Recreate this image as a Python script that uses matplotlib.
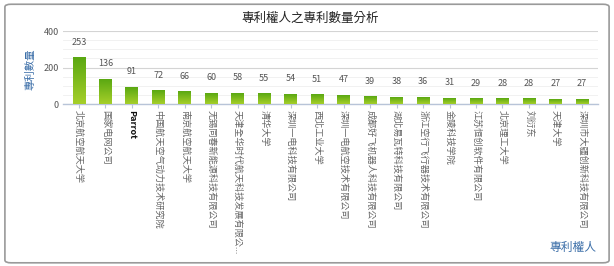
import matplotlib
matplotlib.use('Agg')
import matplotlib.pyplot as plt
import numpy as np
from matplotlib.patches import FancyBboxPatch
from matplotlib.colors import LinearSegmentedColormap

plt.rcParams['font.family'] = ['Noto Sans CJK TC', 'DejaVu Sans']

# data
applicants = [
    '北京航空航天大学', '国家电网公司', 'Parrot', '中国航天空气动力技术研究院',
    '南京航空航天大学', '无锡同春新能源科技有限公司', '天津全华时代航天科技发展有限公...',
    '清华大学', '深圳一电科技有限公司', '西北工业大学', '深圳一电航空技术有限公司',
    '成都好飞机器人科技有限公司', '湖北易瓦特科技有限公司', '浙江空行飞行器技术有限公司',
    '金陵科技学院', '江苏恒创软件有限公司', '北京理工大学', '刘衍东', '天津大学',
    '深圳市大疆创新科技有限公司',
]
counts = [253, 136, 91, 72, 66, 60, 58, 55, 54, 51, 47, 39, 38, 36, 31, 29, 28, 28, 27, 27]

title = '專利權人之專利數量分析'
ylabel = '專利數量'
xlabel = '專利權人'

fig = plt.figure(figsize=(6.14, 2.66), dpi=100)

# outer frame
frame = FancyBboxPatch((0.008, 0.012), 0.984, 0.972, boxstyle='round,pad=0,rounding_size=0.01',
                       transform=fig.transFigure, facecolor='none', edgecolor='#9a9a9a',
                       linewidth=1.2, zorder=5)
fig.patches.append(frame)

ax = fig.add_axes([0.1026, 0.609, 0.871, 0.274])
ax.set_facecolor('none')

x = np.arange(len(counts))
bars = ax.bar(x, counts, width=0.48, color='none', edgecolor='none', zorder=3)

# green gradient fill for each bar
cmap = LinearSegmentedColormap.from_list('g', ['#a6cf2a', '#5aa812'])
grad = np.linspace(0, 1, 100).reshape(-1, 1)
for b in bars:
    x0, w, h = b.get_x(), b.get_width(), b.get_height()
    ax.imshow(grad, cmap=cmap, extent=[x0, x0 + w, 0, h], origin='lower',
              aspect='auto', zorder=3)

for xi, v in zip(x, counts):
    ax.annotate(str(v), (xi, v), xytext=(0, 8), textcoords='offset points',
                ha='center', va='bottom', fontsize=6.5, color='#555555')

ax.set_xlim(-0.6, len(counts) - 0.4)
ax.set_ylim(0, 400)
ax.set_yticks([0, 200, 400])
ax.set_yticks([50, 100, 150, 250, 300, 350], minor=True)
ax.tick_params(axis='y', which='both', length=0, labelsize=6.5, labelcolor='#555555', pad=3)
ax.grid(True, axis='y', which='major', color='#d4d4d4', linewidth=0.8, zorder=0)
ax.grid(True, axis='y', which='minor', color='#efefef', linewidth=0.6, zorder=0)

ax.set_xticks(x)
ax.set_xticklabels(applicants, rotation=-90, ha='center', va='top', fontsize=6.6, color='#666666')
for lbl in ax.get_xticklabels():
    if lbl.get_text() == 'Parrot':
        lbl.set_color('#111111')
        lbl.set_fontweight('bold')
ax.tick_params(axis='x', length=3, color='#b8c4d8', pad=1)

for s in ['top', 'right', 'left']:
    ax.spines[s].set_visible(False)
ax.spines['bottom'].set_color('#b8c4d8')
ax.spines['bottom'].set_linewidth(1.0)

fig.text(0.505, 0.93, title, ha='center', va='center', fontsize=9, color='#222222')
fig.text(0.05, 0.74, ylabel, ha='center', va='center', rotation=90, fontsize=7.5,
         color='#3b6ea8')
fig.text(0.934, 0.071, xlabel, ha='center', va='center', fontsize=8.5, color='#3b6ea8')

fig.savefig('out.png', dpi=100)
